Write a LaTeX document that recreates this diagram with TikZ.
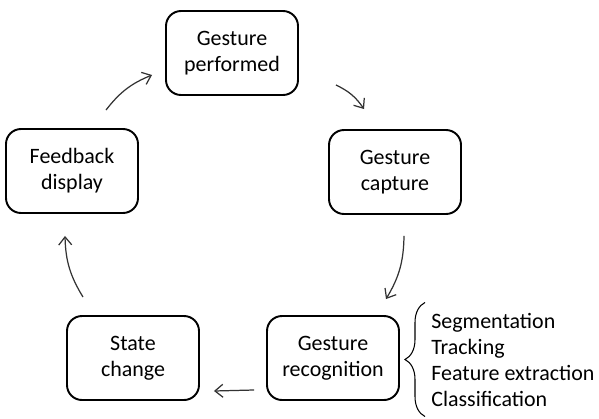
\documentclass[tikz,border=0pt]{standalone}
\usepackage{fontspec}
\setmainfont{Carlito}
\usetikzlibrary{arrows.meta,decorations.pathreplacing}
\tikzset{
  stage/.style={draw, line width=1.1pt, rounded corners=0.3cm, minimum width=2.64cm,
    minimum height=1.68cm, align=center, font=\fontsize{12.5}{14.8}\selectfont},
  flow/.style={draw=black!80, line width=0.7pt, -{Straight Barb[length=1.6mm,width=2.6mm]}}
}
\begin{document}
\begin{tikzpicture}
\useasboundingbox (0,0) rectangle (11.98,8.36);
\node[stage] (perf) at (4.64,7.30) {Gesture\\performed};
\node[stage] (capt) at (7.90,4.92) {Gesture\\capture};
\node[stage] (recog) at (6.66,1.20) {Gesture\\recognition};
\node[stage] (state) at (2.66,1.20) {State\\change};
\node[stage] (feedb) at (1.44,4.94) {Feedback\\display};
\node[anchor=west, align=left, inner xsep=0pt, inner ysep=0.2cm,
  font=\fontsize{12.5}{14.8}\selectfont] (steps) at (8.62,1.17)
  {Segmentation\\Tracking\\Feature extraction\\Classification};
\draw[line width=0.6pt, decorate, decoration={brace,amplitude=0.4cm}]
  ([xshift=-0.12cm]steps.south west) -- ([xshift=-0.12cm]steps.north west);
\draw[flow] ([xshift=0.68cm,yshift=0.36cm]feedb.north) to[bend left=15] ([xshift=-0.26cm,yshift=-0.44cm]perf.west);
\draw[flow] ([xshift=0.74cm,yshift=-0.64cm]perf.east) to[bend left=15] ([xshift=-0.62cm,yshift=0.40cm]capt.north);
\draw[flow] ([xshift=0.18cm,yshift=-0.42cm]capt.south) to[bend left=15] ([xshift=1.06cm,yshift=0.32cm]recog.north);
\draw[flow] ([xshift=-0.24cm,yshift=-0.64cm]recog.west) -- ([xshift=0.28cm,yshift=-0.66cm]state.east);
\draw[flow] ([xshift=-1.00cm,yshift=0.36cm]state.north) to[bend left=15] ([xshift=-0.14cm,yshift=-0.44cm]feedb.south);
\end{tikzpicture}
\end{document}
